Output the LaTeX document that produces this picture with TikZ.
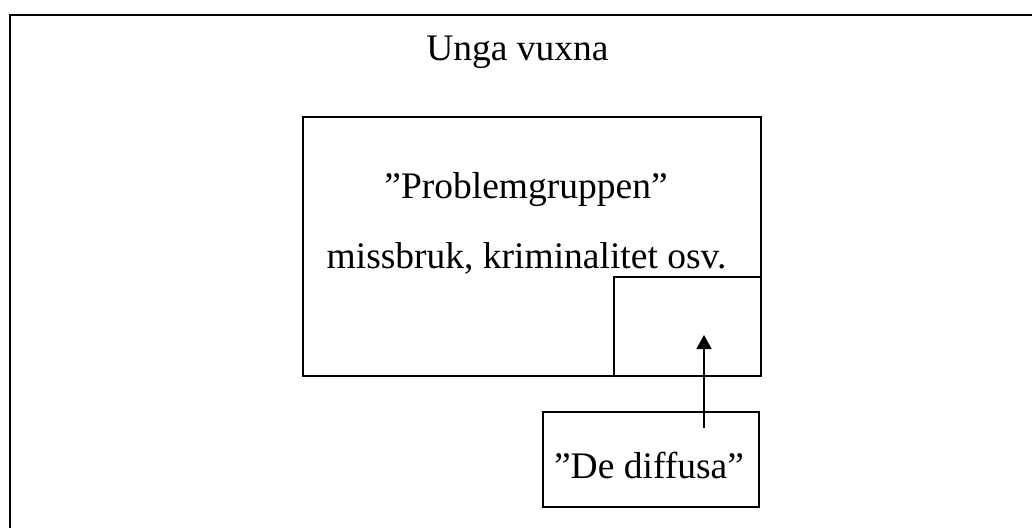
\documentclass[tikz,border=0pt]{standalone}
\usepackage{fontspec}
\setmainfont{Liberation Serif}
\usetikzlibrary{arrows.meta}
\begin{document}
\begin{tikzpicture}[x=1pt,y=-1pt,
  boxst/.style={draw=black,line width=1.6pt,rectangle,inner sep=0pt},
  txt/.style={anchor=base,inner sep=0pt,font=\fontsize{37.5}{45}\selectfont},
  arr/.style={line width=1.6pt,-{Triangle[length=14pt,width=15pt]}}]
\useasboundingbox (0,0) rectangle (1032,527);
\fill[white] (0,0) rectangle (1032,527);
% outer frame (cropped at right and bottom)
\draw[line width=2.4pt] (10,540) -- (10,15) -- (1045,15);
\node[txt] (unga) at (517.5,60) {Unga vuxna};
% problem group box
\node[boxst,minimum width=458pt,minimum height=259pt] (prob) at (532,246.5) {};
\node[txt] (probt) at (526,198) {”Problemgruppen”};
\node[txt] (miss) at (526.5,268) {missbruk, kriminalitet osv.};
% small overlap box
\node[boxst,minimum width=147pt,minimum height=99pt] (small) at (687.5,326.5) {};
% diffuse box
\node[boxst,minimum width=216pt,minimum height=95pt] (diff) at (651,459.5) {};
\node[txt] (difft) at (649,478) {”De diffusa”};
\coordinate (as) at (704,428);
\coordinate (ae) at (704,335);
\draw[arr] (as) -- (ae);
\end{tikzpicture}
\end{document}
